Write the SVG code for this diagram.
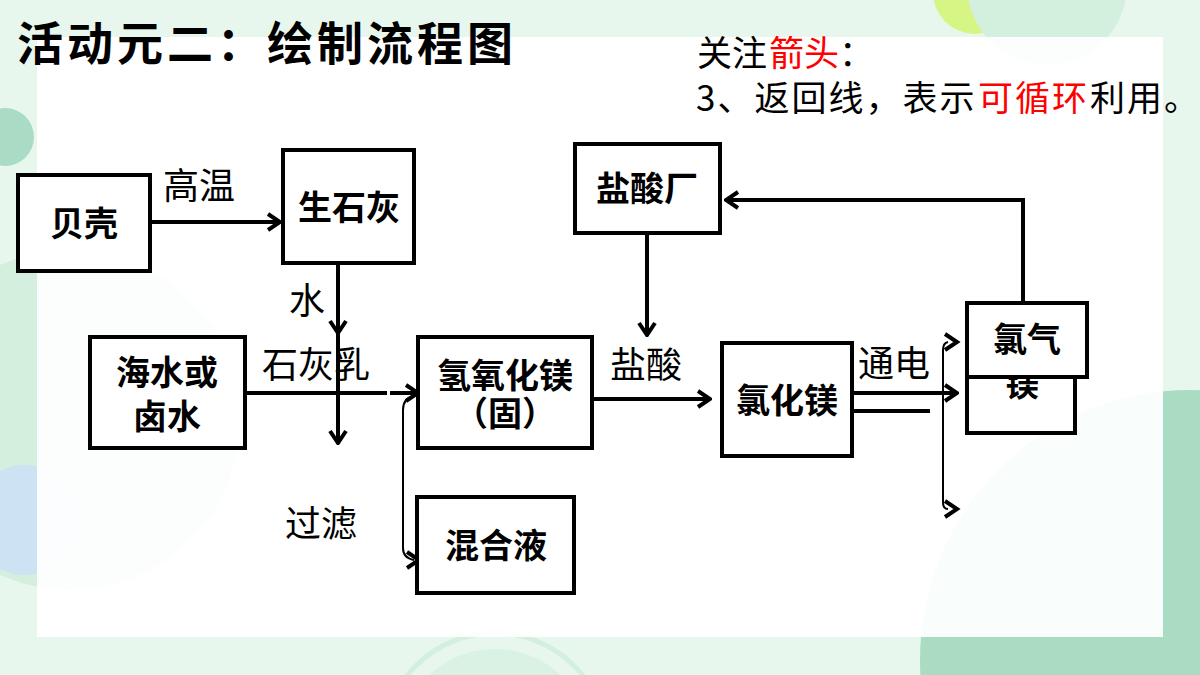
<svg xmlns="http://www.w3.org/2000/svg" width="1200" height="675" viewBox="0 0 1200 675">
<style>
.box{fill:#fff;stroke:#000;stroke-width:4}
.bt{font-family:"Noto Sans CJK SC","Noto Sans",sans-serif;font-weight:700;font-size:34px;fill:#000;text-anchor:middle}
.lb{font-family:"Noto Sans CJK SC","Noto Sans",sans-serif;font-weight:400;font-size:36px;fill:#000}
.nt{font-family:"Noto Sans CJK SC","Noto Sans",sans-serif;font-size:35px;fill:#000}
.red{fill:#ff0000}
.ln{fill:none;stroke:#000;stroke-width:4}
.thin{fill:none;stroke:#000;stroke-width:2}
.hd{fill:none;stroke:#000;stroke-width:4;stroke-linejoin:miter}
</style>
<defs>
<marker id="chev" viewBox="0 0 16 20" markerWidth="16" markerHeight="20" refX="14" refY="10" orient="auto" markerUnits="userSpaceOnUse">
<path d="M2,2 L14,10 L2,18" fill="none" stroke="#000" stroke-width="4"/>
</marker>
</defs>
<g id="background">
<rect x="0" y="0" width="1200" height="675" fill="#e7f7ed"/>
<circle cx="70" cy="420" r="170" fill="#d4efdd"/>
<circle cx="25" cy="520" r="55" fill="#cde2f2"/>
<circle cx="5" cy="137" r="29" fill="#a9dbc5"/>
<circle cx="1190" cy="660" r="270" fill="#a9dcc3"/>
<circle cx="975" cy="-8" r="42" fill="#d6f585"/>
<circle cx="1047" cy="-15" r="80" fill="#d3f0df"/>
<circle cx="495" cy="745" r="112" fill="none" stroke="#d3efdd" stroke-width="5"/>
<circle cx="495" cy="745" r="96" fill="#d9f2e3"/>
<rect x="37" y="37" width="1126" height="600" fill="#ffffff" fill-opacity="0.93"/>
</g>
<g id="title">
<text x="17" y="60" font-family="'Noto Sans CJK SC',sans-serif" font-weight="700" font-size="46" letter-spacing="4">活动元二：绘制流程图</text>
</g>
<g id="note">
<text class="nt" x="697" y="66">关注</text>
<text class="nt red" x="769" y="66">箭头</text>
<text class="nt" x="839" y="66">：</text>
<text class="nt" x="696" y="111" letter-spacing="2">3、返回线，表示</text>
<text class="nt red" x="978" y="111" letter-spacing="2">可循环</text>
<text class="nt" x="1090" y="111" letter-spacing="2">利用。</text>
</g>
<g id="connectors">
<path class="ln" d="M150,222 L280,222" marker-end="url(#chev)"/>
<path class="ln" d="M338,263 L338,333" marker-end="url(#chev)"/>
<path class="ln" d="M338,333 L338,443" marker-end="url(#chev)"/>
<path class="ln" d="M245,393 L387,393"/>
<path class="ln" d="M390,393 L418,393" marker-end="url(#chev)"/>
<path class="thin" d="M414,396 Q403,398 403,410 L403,548 Q403,558 414,560"/>
<polyline class="hd" points="407,552 419,560 407,568"/>
<path class="ln" d="M592,399 L710,399" marker-end="url(#chev)"/>
<path class="ln" d="M647,233 L647,335" marker-end="url(#chev)"/>
<path class="ln" d="M1023,303 L1023,200 L726,200" marker-end="url(#chev)"/>
<path class="ln" d="M852,393 L957,393" marker-end="url(#chev)"/>
<path class="ln" d="M852,411 L930,411"/>
<path class="thin" d="M948,342 Q943,343 943,350 L943,502 Q943,509 948,509"/>
<polyline class="hd" points="945,334 957,342 945,350"/>
<polyline class="hd" points="945,501 957,509 945,517"/>
</g>
<g id="labels">
<text class="lb" x="163" y="199">高温</text>
<text class="lb" x="289" y="314">水</text>
<text class="lb" x="262" y="378" font-size="37">石灰乳</text>
<text class="lb" x="285" y="537">过滤</text>
<text class="lb" x="610" y="378">盐酸</text>
<text class="lb" x="858" y="377">通电</text>
</g>
<g id="node-beike">
<rect class="box" x="18" y="175" width="132" height="96"/>
<text class="bt" x="84" y="236">贝壳</text>
</g>
<g id="node-shengshihui">
<rect class="box" x="283" y="150" width="131" height="113"/>
<text class="bt" x="349" y="220">生石灰</text>
</g>
<g id="node-haishui">
<rect class="box" x="90" y="337" width="155" height="111"/>
<text class="bt" x="167" y="385">海水或</text>
<text class="bt" x="167" y="429">卤水</text>
</g>
<g id="node-mgoh">
<rect class="box" x="418" y="337" width="174" height="111"/>
<text class="bt" x="505" y="388">氢氧化镁</text>
<text class="bt" x="505" y="426">（固）</text>
</g>
<g id="node-hunheye">
<rect class="box" x="417" y="497" width="157" height="96"/>
<text class="bt" x="496" y="558">混合液</text>
</g>
<g id="node-yansuanchang">
<rect class="box" x="575" y="144" width="145" height="89"/>
<text class="bt" x="647" y="201">盐酸厂</text>
</g>
<g id="node-mgcl2">
<rect class="box" x="722" y="343" width="130" height="113"/>
<text class="bt" x="787" y="413">氯化镁</text>
</g>
<g id="node-mei">
<rect class="box" x="967" y="320" width="108" height="113"/>
<text class="bt" x="1022" y="396">镁</text>
</g>
<g id="node-lvqi">
<rect class="box" x="967" y="303" width="120" height="74"/>
<text class="bt" x="1027" y="352">氯气</text>
</g>
</svg>
